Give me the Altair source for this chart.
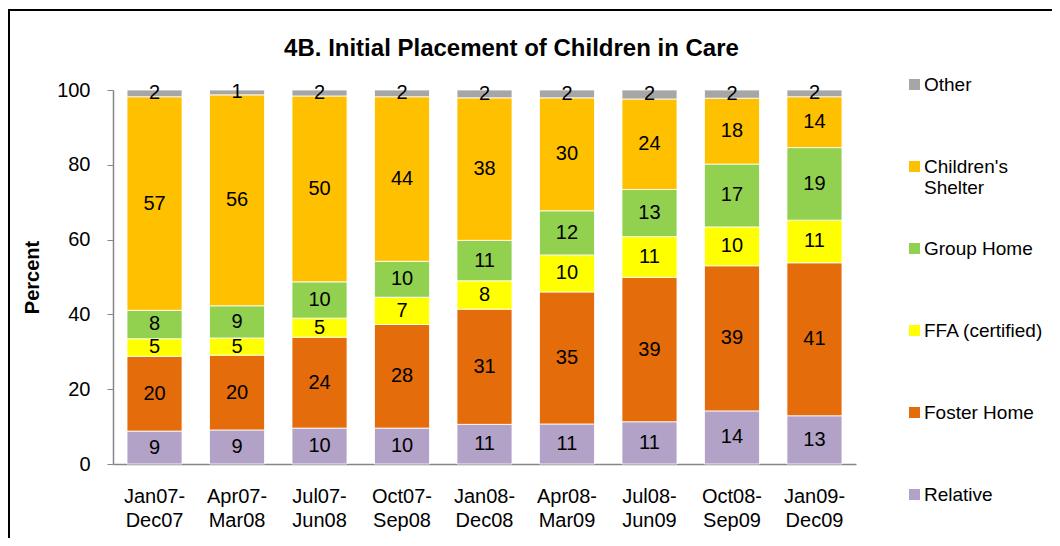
import altair as alt
import pandas as pd

periods = ["Jan07-Dec07", "Apr07-Mar08", "Jul07-Jun08", "Oct07-Sep08", "Jan08-Dec08",
           "Apr08-Mar09", "Jul08-Jun09", "Oct08-Sep09", "Jan09-Dec09"]
series = ["Relative", "Foster Home", "FFA (certified)", "Group Home", "Children's Shelter", "Other"]
colors = ["#B3A2C7", "#E46C0A", "#FFFF00", "#92D050", "#FFC000", "#A6A6A6"]

relative = [8.8, 9.1, 9.6, 9.6, 10.6, 10.7, 11.3, 14.2, 12.9]
foster = [20.0, 20.0, 24.3, 27.7, 30.8, 35.3, 38.6, 38.8, 40.9]
ffa = [4.7, 4.6, 5.1, 7.3, 7.6, 9.9, 10.9, 10.4, 11.4]
group_home = [7.6, 8.6, 9.7, 9.6, 10.8, 11.8, 12.6, 16.8, 19.4]
shelter = [57.1, 56.4, 49.7, 44.0, 38.1, 30.2, 24.2, 17.6, 13.6]
other = [1.8, 1.3, 1.6, 1.8, 2.1, 2.1, 2.4, 2.2, 1.8]

y_ticks = [0, 20, 40, 60, 80, 100]

values_by_series = [relative, foster, ffa, group_home, shelter, other]
rows = []
for i, p in enumerate(periods):
    for k, s in enumerate(series):
        rows.append({"period": p, "series": s, "ord": k, "value": values_by_series[k][i]})
df = pd.DataFrame(rows)

FONT = "Liberation Sans"
legend_order = series[::-1]
legend_colors = colors[::-1]

base = alt.Chart(df).transform_stack(
    stack="value", groupby=["period"], as_=["y0", "y1"],
    sort=[alt.SortField("ord", order="ascending")]
).transform_calculate(mid="(datum.y0 + datum.y1) / 2")

x_enc = alt.X(
    "period:N", sort=periods, title=None,
    scale=alt.Scale(paddingInner=0.333, paddingOuter=0.17),
    axis=alt.Axis(labelAngle=0, ticks=False, labelPadding=22, labelLineHeight=24,
                  labelExpr="[slice(datum.label, 0, 6), slice(datum.label, 6)]",
                  labelFontSize=20, labelBaseline="top")
)

bars = base.mark_bar(stroke="white", strokeWidth=1, strokeOpacity=0.8).encode(
    x=x_enc,
    y=alt.Y("y1:Q", scale=alt.Scale(domain=[0, 100], nice=False),
            axis=alt.Axis(values=y_ticks, title="Percent", titleFontSize=20,
                          titleFontWeight="bold", titlePadding=14, labelPadding=17,
                          tickSize=6, labelFontSize=20)),
    y2="y0:Q",
    color=alt.Color("series:N",
                    scale=alt.Scale(domain=legend_order, range=legend_colors),
                    legend=alt.Legend(title=None, orient="none", legendX=792, legendY=-15,
                                      symbolType="square", symbolSize=121,
                                      symbolStrokeWidth=0, symbolOpacity=1,
                                      labelFontSize=19, labelFont=FONT, labelOffset=0,
                                      rowPadding=41, padding=0, labelLimit=300,
                                      labelBaseline="middle",
                                      labelExpr='datum.label == "Children\'s Shelter" ? ["Children\'s", "Shelter"] : [datum.label, ""]')),
)

text = base.mark_text(font=FONT, fontSize=20, color="black").encode(
    x=alt.X("period:N", sort=periods),
    y=alt.Y("mid:Q"),
    text=alt.Text("value:Q", format=".0f"),
)

frame = alt.Chart(pd.DataFrame({"f": [0]})).mark_rect(
    filled=False, stroke="black", strokeWidth=2
).encode(
    x=alt.value(-104), x2=alt.value(1200), y=alt.value(-80), y2=alt.value(800)
)

chart = alt.layer(bars, text, frame).properties(
    width=743, height=374,
    title=alt.TitleParams("4B. Initial Placement of Children in Care", font=FONT,
                          fontSize=24, fontWeight="bold", anchor="middle", dx=27,
                          frame="group", offset=-52, color="black"),
    padding={"left": 105, "top": 82, "right": 196, "bottom": 74},
    autosize="none",
).configure_view(stroke=None).configure_axis(
    grid=False, domainColor="#868686", domainWidth=1.5, tickColor="#868686",
    labelFont=FONT, labelColor="black", titleFont=FONT, titleColor="black"
).configure_legend(labelColor="black")

chart.save("out.html", embed_options={"renderer": "svg", "actions": False})
